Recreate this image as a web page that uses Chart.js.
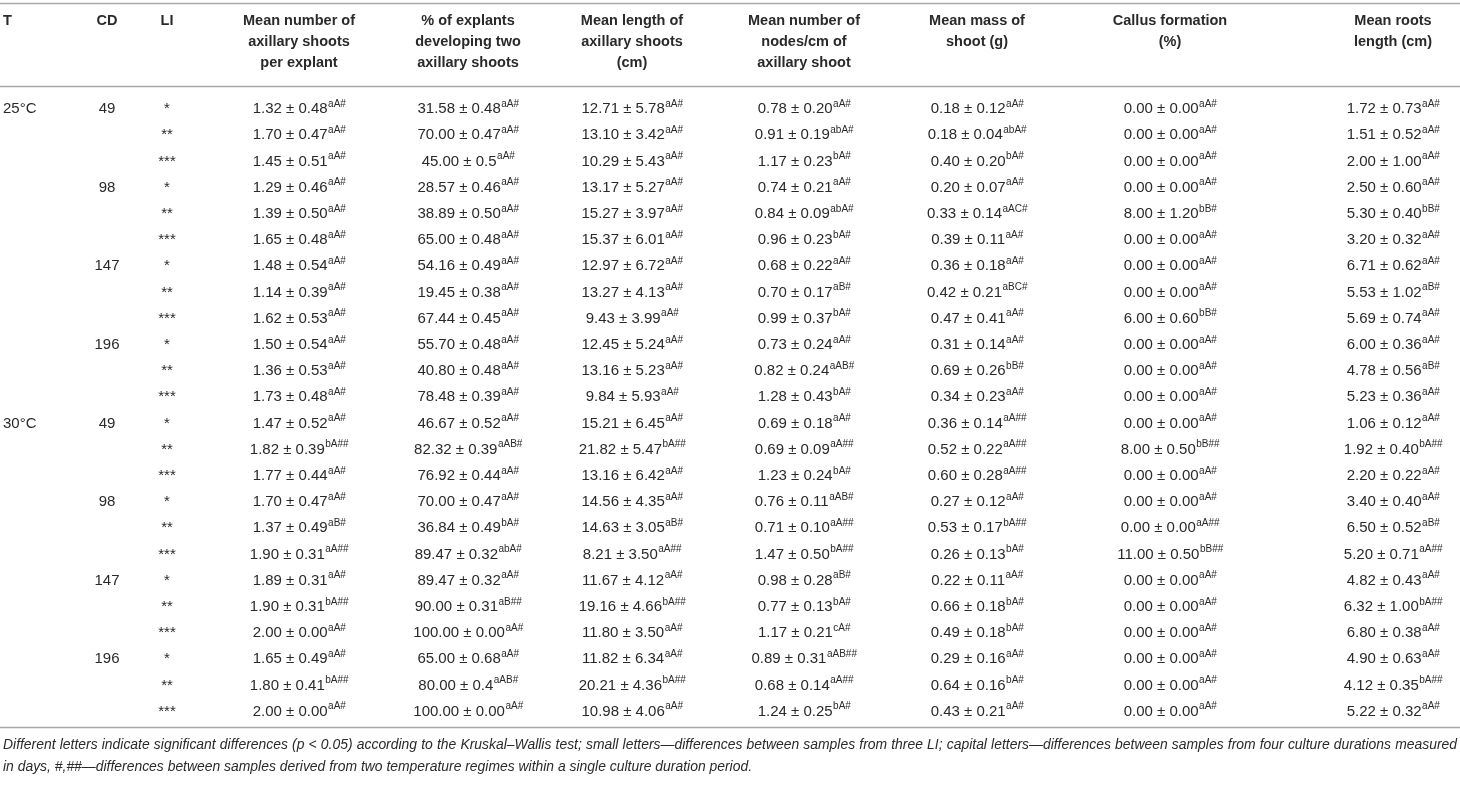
<!DOCTYPE html>
<html><head><meta charset="utf-8">
<script src="https://cdn.jsdelivr.net/npm/chart.js@4.4.0/dist/chart.umd.min.js"></script>
<style>html,body{margin:0;padding:0;background:#fff;overflow:hidden}#wrap{width:1460px;height:787px;position:relative}</style>
</head><body><div id="wrap"><canvas id="c" width="1460" height="787"></canvas></div>
<script>
// ---------- DATA ----------
const temperatures = ["25°C", "30°C"];
const cultureDurations = ["49", "98", "147", "196"];
const lightIntensities = ["*", "**", "***"];

const columnHeaders = [
  ["Mean number of", "axillary shoots", "per explant"],
  ["% of explants", "developing two", "axillary shoots"],
  ["Mean length of", "axillary shoots", "(cm)"],
  ["Mean number of", "nodes/cm of", "axillary shoot"],
  ["Mean mass of", "shoot (g)"],
  ["Callus formation", "(%)"],
  ["Mean roots", "length (cm)"]
];

// each entry: [mean, sd, significance letters]
const axillaryShoots = [
  ["1.32","0.48","aA#"],["1.70","0.47","aA#"],["1.45","0.51","aA#"],
  ["1.29","0.46","aA#"],["1.39","0.50","aA#"],["1.65","0.48","aA#"],
  ["1.48","0.54","aA#"],["1.14","0.39","aA#"],["1.62","0.53","aA#"],
  ["1.50","0.54","aA#"],["1.36","0.53","aA#"],["1.73","0.48","aA#"],
  ["1.47","0.52","aA#"],["1.82","0.39","bA##"],["1.77","0.44","aA#"],
  ["1.70","0.47","aA#"],["1.37","0.49","aB#"],["1.90","0.31","aA##"],
  ["1.89","0.31","aA#"],["1.90","0.31","bA##"],["2.00","0.00","aA#"],
  ["1.65","0.49","aA#"],["1.80","0.41","bA##"],["2.00","0.00","aA#"]
];
const twoShootsPct = [
  ["31.58","0.48","aA#"],["70.00","0.47","aA#"],["45.00","0.5","aA#"],
  ["28.57","0.46","aA#"],["38.89","0.50","aA#"],["65.00","0.48","aA#"],
  ["54.16","0.49","aA#"],["19.45","0.38","aA#"],["67.44","0.45","aA#"],
  ["55.70","0.48","aA#"],["40.80","0.48","aA#"],["78.48","0.39","aA#"],
  ["46.67","0.52","aA#"],["82.32","0.39","aAB#"],["76.92","0.44","aA#"],
  ["70.00","0.47","aA#"],["36.84","0.49","bA#"],["89.47","0.32","abA#"],
  ["89.47","0.32","aA#"],["90.00","0.31","aB##"],["100.00","0.00","aA#"],
  ["65.00","0.68","aA#"],["80.00","0.4","aAB#"],["100.00","0.00","aA#"]
];
const shootLength = [
  ["12.71","5.78","aA#"],["13.10","3.42","aA#"],["10.29","5.43","aA#"],
  ["13.17","5.27","aA#"],["15.27","3.97","aA#"],["15.37","6.01","aA#"],
  ["12.97","6.72","aA#"],["13.27","4.13","aA#"],["9.43","3.99","aA#"],
  ["12.45","5.24","aA#"],["13.16","5.23","aA#"],["9.84","5.93","aA#"],
  ["15.21","6.45","aA#"],["21.82","5.47","bA##"],["13.16","6.42","aA#"],
  ["14.56","4.35","aA#"],["14.63","3.05","aB#"],["8.21","3.50","aA##"],
  ["11.67","4.12","aA#"],["19.16","4.66","bA##"],["11.80","3.50","aA#"],
  ["11.82","6.34","aA#"],["20.21","4.36","bA##"],["10.98","4.06","aA#"]
];
const nodesPerCm = [
  ["0.78","0.20","aA#"],["0.91","0.19","abA#"],["1.17","0.23","bA#"],
  ["0.74","0.21","aA#"],["0.84","0.09","abA#"],["0.96","0.23","bA#"],
  ["0.68","0.22","aA#"],["0.70","0.17","aB#"],["0.99","0.37","bA#"],
  ["0.73","0.24","aA#"],["0.82","0.24","aAB#"],["1.28","0.43","bA#"],
  ["0.69","0.18","aA#"],["0.69","0.09","aA##"],["1.23","0.24","bA#"],
  ["0.76","0.11","aAB#"],["0.71","0.10","aA##"],["1.47","0.50","bA##"],
  ["0.98","0.28","aB#"],["0.77","0.13","bA#"],["1.17","0.21","cA#"],
  ["0.89","0.31","aAB##"],["0.68","0.14","aA##"],["1.24","0.25","bA#"]
];
const shootMass = [
  ["0.18","0.12","aA#"],["0.18","0.04","abA#"],["0.40","0.20","bA#"],
  ["0.20","0.07","aA#"],["0.33","0.14","aAC#"],["0.39","0.11","aA#"],
  ["0.36","0.18","aA#"],["0.42","0.21","aBC#"],["0.47","0.41","aA#"],
  ["0.31","0.14","aA#"],["0.69","0.26","bB#"],["0.34","0.23","aA#"],
  ["0.36","0.14","aA##"],["0.52","0.22","aA##"],["0.60","0.28","aA##"],
  ["0.27","0.12","aA#"],["0.53","0.17","bA##"],["0.26","0.13","bA#"],
  ["0.22","0.11","aA#"],["0.66","0.18","bA#"],["0.49","0.18","bA#"],
  ["0.29","0.16","aA#"],["0.64","0.16","bA#"],["0.43","0.21","aA#"]
];
const callusPct = [
  ["0.00","0.00","aA#"],["0.00","0.00","aA#"],["0.00","0.00","aA#"],
  ["0.00","0.00","aA#"],["8.00","1.20","bB#"],["0.00","0.00","aA#"],
  ["0.00","0.00","aA#"],["0.00","0.00","aA#"],["6.00","0.60","bB#"],
  ["0.00","0.00","aA#"],["0.00","0.00","aA#"],["0.00","0.00","aA#"],
  ["0.00","0.00","aA#"],["8.00","0.50","bB##"],["0.00","0.00","aA#"],
  ["0.00","0.00","aA#"],["0.00","0.00","aA##"],["11.00","0.50","bB##"],
  ["0.00","0.00","aA#"],["0.00","0.00","aA#"],["0.00","0.00","aA#"],
  ["0.00","0.00","aA#"],["0.00","0.00","aA#"],["0.00","0.00","aA#"]
];
const rootLength = [
  ["1.72","0.73","aA#"],["1.51","0.52","aA#"],["2.00","1.00","aA#"],
  ["2.50","0.60","aA#"],["5.30","0.40","bB#"],["3.20","0.32","aA#"],
  ["6.71","0.62","aA#"],["5.53","1.02","aB#"],["5.69","0.74","aA#"],
  ["6.00","0.36","aA#"],["4.78","0.56","aB#"],["5.23","0.36","aA#"],
  ["1.06","0.12","aA#"],["1.92","0.40","bA##"],["2.20","0.22","aA#"],
  ["3.40","0.40","aA#"],["6.50","0.52","aB#"],["5.20","0.71","aA##"],
  ["4.82","0.43","aA#"],["6.32","1.00","bA##"],["6.80","0.38","aA#"],
  ["4.90","0.63","aA#"],["4.12","0.35","bA##"],["5.22","0.32","aA#"]
];
const footnoteLines = [
  "Different letters indicate significant differences (p < 0.05) according to the Kruskal–Wallis test; small letters—differences between samples from three LI; capital letters—differences between samples from four culture durations measured",
  "in days, #,##—differences between samples derived from two temperature regimes within a single culture duration period."
];

// ---------- LAYOUT (not data) ----------
const W = 1460, H = 787;
const ROW0 = 109, PITCH = 26.2;
const colX = { T: 3, CD: 107, LI: 167, v: [299, 468, 632, 804, 977, 1170, 1393] };
const headY = [21, 42, 63];
const ruleY = [3.5, 86.5, 727.5];
const footY = [745, 767];
const TXT = "#2a2a2a", RULE = "#a8a8a8";
const FONT = '"Liberation Sans", Arial, Helvetica, sans-serif';
const MAINPX = 15, SUPPX = 10, HEADPX = 14.5;

// ---------- BUILD ----------
const valueColumns = [axillaryShoots, twoShootsPct, shootLength, nodesPerCm, shootMass, callusPct, rootLength];
const rows = [];
temperatures.forEach(t => cultureDurations.forEach((cd, ci) => lightIntensities.forEach((li, li_i) => {
  rows.push({ t: (ci === 0 && li_i === 0) ? t : "", cd: li_i === 0 ? cd : "", li: li });
})));

const datasets = [];
function mk(label, x, cells, align) {
  datasets.push({ label, cells, align, data: cells.map((c, i) => ({ x, y: i })), pointRadius: 0, pointHoverRadius: 0 });
}
mk("T", colX.T, rows.map(r => [r.t]), "left");
mk("CD", colX.CD, rows.map(r => [r.cd]), "center");
mk("LI", colX.LI, rows.map(r => [r.li]), "center");
valueColumns.forEach((col, k) => mk(columnHeaders[k].join(" "), colX.v[k], col.map(c => [c[0] + " \u00b1 " + c[1], c[2]]), "center"));

const tablePlugin = {
  id: "tablePlugin",
  afterDatasetsDraw(chart) {
    const ctx = chart.ctx;
    ctx.save();
    // rules
    ctx.strokeStyle = RULE; ctx.lineWidth = 1.5;
    ruleY.forEach(y => { ctx.beginPath(); ctx.moveTo(0, y); ctx.lineTo(W, y); ctx.stroke(); });
    // headers
    ctx.fillStyle = TXT; ctx.textBaseline = "middle";
    ctx.font = "bold " + HEADPX + "px " + FONT;
    ctx.textAlign = "left"; ctx.fillText("T", colX.T, headY[0]);
    ctx.textAlign = "center";
    ctx.fillText("CD", colX.CD, headY[0]);
    ctx.fillText("LI", colX.LI, headY[0]);
    columnHeaders.forEach((lines, k) => lines.forEach((s, j) => ctx.fillText(s, colX.v[k], headY[j])));
    // cells
    chart.data.datasets.forEach((ds, di) => {
      const meta = chart.getDatasetMeta(di);
      meta.data.forEach((pt, i) => {
        const cell = ds.cells[i];
        const main = cell[0], sup = cell[1] || "";
        if (!main) return;
        ctx.font = MAINPX + "px " + FONT;
        const w1 = ctx.measureText(main).width;
        ctx.font = SUPPX + "px " + FONT;
        const w2 = sup ? ctx.measureText(sup).width : 0;
        let x0 = ds.align === "left" ? pt.x : pt.x - (w1 + w2) / 2;
        ctx.textAlign = "left";
        ctx.font = MAINPX + "px " + FONT;
        ctx.fillText(main, x0, pt.y);
        if (sup) { ctx.font = SUPPX + "px " + FONT; ctx.fillText(sup, x0 + w1 + 0.5, pt.y - 5); }
      });
    });
    // footnote: size chosen so the first line fills the width, then justified
    const target = W - 6;
    ctx.font = "italic 14px " + FONT;
    const nat = ctx.measureText(footnoteLines[0]).width;
    const fpx = Math.min(14.5, 14 * target / nat * 0.995);
    ctx.font = "italic " + fpx.toFixed(2) + "px " + FONT;
    ctx.textAlign = "left";
    footnoteLines.forEach((line, j) => {
      if (j === 0) {
        const words = line.split(" ");
        const ww = words.map(w => ctx.measureText(w).width);
        const sum = ww.reduce((a, b) => a + b, 0);
        const gap = (target - sum) / (words.length - 1);
        let x = 3;
        words.forEach((w, i) => { ctx.fillText(w, x, footY[j]); x += ww[i] + gap; });
      } else {
        ctx.fillText(line, 3, footY[j]);
      }
    });
    ctx.restore();
  }
};

const yMin = -ROW0 / PITCH, yMax = (H - ROW0) / PITCH;
new Chart(document.getElementById("c"), {
  type: "scatter",
  data: { datasets },
  options: {
    responsive: false, animation: false, events: [],
    layout: { padding: 0 },
    scales: {
      x: { type: "linear", min: 0, max: W, display: false },
      y: { type: "linear", min: yMin, max: yMax, reverse: true, display: false }
    },
    plugins: { legend: { display: false }, tooltip: { enabled: false } }
  },
  plugins: [tablePlugin]
});
</script></body></html>
